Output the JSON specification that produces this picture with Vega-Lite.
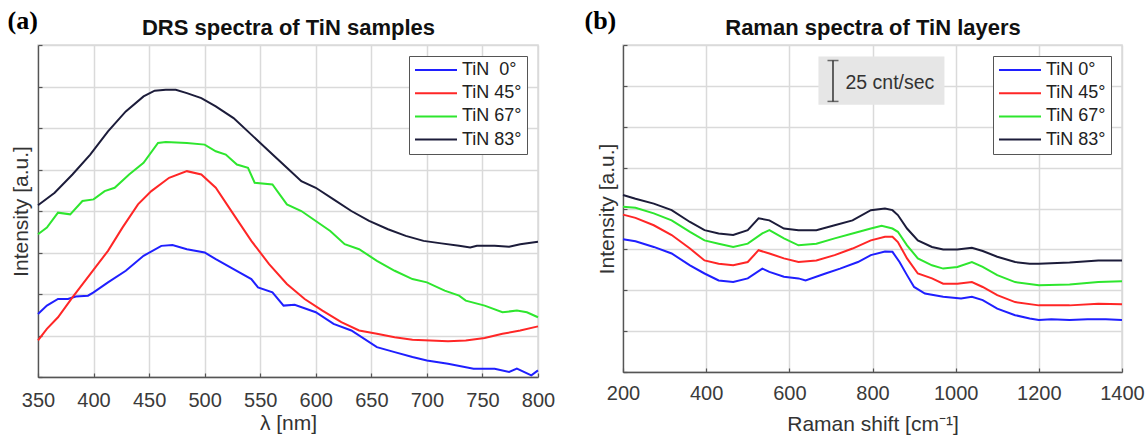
{
  "$schema": "https://vega.github.io/schema/vega-lite/v6.json",
  "padding": {"left": 6, "top": 6, "right": 5, "bottom": 0},
  "spacing": 85,
  "bounds": "flush",
  "datasets": {
    "drs": [
      {"lam":350,"I":1.52,"s":"0"},{"lam":358,"I":1.72,"s":"0"},{"lam":368,"I":1.88,"s":"0"},{"lam":377,"I":1.88,"s":"0"},{"lam":384,"I":1.94,"s":"0"},{"lam":395,"I":1.96,"s":"0"},{"lam":400,"I":2.04,"s":"0"},{"lam":413,"I":2.28,"s":"0"},{"lam":429,"I":2.56,"s":"0"},{"lam":445,"I":2.92,"s":"0"},{"lam":461,"I":3.16,"s":"0"},{"lam":471,"I":3.18,"s":"0"},{"lam":484,"I":3.08,"s":"0"},{"lam":500,"I":3.0,"s":"0"},{"lam":510,"I":2.84,"s":"0"},{"lam":526,"I":2.6,"s":"0"},{"lam":542,"I":2.36,"s":"0"},{"lam":548,"I":2.16,"s":"0"},{"lam":561,"I":2.04,"s":"0"},{"lam":571,"I":1.72,"s":"0"},{"lam":581,"I":1.74,"s":"0"},{"lam":600,"I":1.56,"s":"0"},{"lam":616,"I":1.28,"s":"0"},{"lam":632,"I":1.12,"s":"0"},{"lam":655,"I":0.72,"s":"0"},{"lam":671,"I":0.6,"s":"0"},{"lam":687,"I":0.48,"s":"0"},{"lam":700,"I":0.4,"s":"0"},{"lam":719,"I":0.32,"s":"0"},{"lam":742,"I":0.2,"s":"0"},{"lam":761,"I":0.2,"s":"0"},{"lam":774,"I":0.12,"s":"0"},{"lam":781,"I":0.2,"s":"0"},{"lam":794,"I":0.04,"s":"0"},{"lam":800,"I":0.16,"s":"0"},
      {"lam":350,"I":0.88,"s":"45"},{"lam":358,"I":1.16,"s":"45"},{"lam":368,"I":1.44,"s":"45"},{"lam":381,"I":1.92,"s":"45"},{"lam":397,"I":2.48,"s":"45"},{"lam":413,"I":3.04,"s":"45"},{"lam":426,"I":3.6,"s":"45"},{"lam":440,"I":4.16,"s":"45"},{"lam":452,"I":4.48,"s":"45"},{"lam":468,"I":4.8,"s":"45"},{"lam":484,"I":4.96,"s":"45"},{"lam":497,"I":4.88,"s":"45"},{"lam":510,"I":4.56,"s":"45"},{"lam":526,"I":3.92,"s":"45"},{"lam":542,"I":3.28,"s":"45"},{"lam":558,"I":2.72,"s":"45"},{"lam":574,"I":2.24,"s":"45"},{"lam":590,"I":1.88,"s":"45"},{"lam":606,"I":1.6,"s":"45"},{"lam":623,"I":1.32,"s":"45"},{"lam":639,"I":1.12,"s":"45"},{"lam":655,"I":1.04,"s":"45"},{"lam":671,"I":0.96,"s":"45"},{"lam":687,"I":0.9,"s":"45"},{"lam":703,"I":0.88,"s":"45"},{"lam":719,"I":0.86,"s":"45"},{"lam":735,"I":0.88,"s":"45"},{"lam":752,"I":0.94,"s":"45"},{"lam":768,"I":1.04,"s":"45"},{"lam":784,"I":1.12,"s":"45"},{"lam":800,"I":1.22,"s":"45"},
      {"lam":350,"I":3.44,"s":"67"},{"lam":358,"I":3.6,"s":"67"},{"lam":368,"I":3.96,"s":"67"},{"lam":379,"I":3.92,"s":"67"},{"lam":390,"I":4.24,"s":"67"},{"lam":400,"I":4.28,"s":"67"},{"lam":410,"I":4.48,"s":"67"},{"lam":419,"I":4.56,"s":"67"},{"lam":432,"I":4.88,"s":"67"},{"lam":445,"I":5.16,"s":"67"},{"lam":458,"I":5.64,"s":"67"},{"lam":465,"I":5.66,"s":"67"},{"lam":484,"I":5.64,"s":"67"},{"lam":500,"I":5.6,"s":"67"},{"lam":510,"I":5.44,"s":"67"},{"lam":519,"I":5.36,"s":"67"},{"lam":529,"I":5.12,"s":"67"},{"lam":539,"I":5.04,"s":"67"},{"lam":545,"I":4.68,"s":"67"},{"lam":561,"I":4.64,"s":"67"},{"lam":574,"I":4.16,"s":"67"},{"lam":587,"I":4.0,"s":"67"},{"lam":600,"I":3.76,"s":"67"},{"lam":613,"I":3.52,"s":"67"},{"lam":626,"I":3.2,"s":"67"},{"lam":639,"I":3.08,"s":"67"},{"lam":655,"I":2.8,"s":"67"},{"lam":671,"I":2.56,"s":"67"},{"lam":687,"I":2.36,"s":"67"},{"lam":700,"I":2.28,"s":"67"},{"lam":716,"I":2.08,"s":"67"},{"lam":729,"I":1.96,"s":"67"},{"lam":735,"I":1.84,"s":"67"},{"lam":752,"I":1.72,"s":"67"},{"lam":768,"I":1.56,"s":"67"},{"lam":781,"I":1.6,"s":"67"},{"lam":790,"I":1.56,"s":"67"},{"lam":800,"I":1.44,"s":"67"},
      {"lam":350,"I":4.14,"s":"83"},{"lam":365,"I":4.44,"s":"83"},{"lam":381,"I":4.88,"s":"83"},{"lam":397,"I":5.36,"s":"83"},{"lam":413,"I":5.92,"s":"83"},{"lam":429,"I":6.4,"s":"83"},{"lam":445,"I":6.76,"s":"83"},{"lam":455,"I":6.9,"s":"83"},{"lam":465,"I":6.92,"s":"83"},{"lam":474,"I":6.92,"s":"83"},{"lam":484,"I":6.84,"s":"83"},{"lam":497,"I":6.72,"s":"83"},{"lam":510,"I":6.52,"s":"83"},{"lam":526,"I":6.24,"s":"83"},{"lam":542,"I":5.84,"s":"83"},{"lam":558,"I":5.44,"s":"83"},{"lam":574,"I":5.04,"s":"83"},{"lam":587,"I":4.72,"s":"83"},{"lam":600,"I":4.56,"s":"83"},{"lam":616,"I":4.28,"s":"83"},{"lam":632,"I":4.0,"s":"83"},{"lam":648,"I":3.76,"s":"83"},{"lam":665,"I":3.56,"s":"83"},{"lam":681,"I":3.4,"s":"83"},{"lam":697,"I":3.28,"s":"83"},{"lam":713,"I":3.22,"s":"83"},{"lam":729,"I":3.16,"s":"83"},{"lam":739,"I":3.12,"s":"83"},{"lam":745,"I":3.16,"s":"83"},{"lam":761,"I":3.16,"s":"83"},{"lam":774,"I":3.14,"s":"83"},{"lam":784,"I":3.2,"s":"83"},{"lam":800,"I":3.26,"s":"83"}
    ],
    "raman": [
      {"shift":200,"I":3.25,"s":"0"},{"shift":230,"I":3.2,"s":"0"},{"shift":274,"I":3.06,"s":"0"},{"shift":317,"I":2.9,"s":"0"},{"shift":361,"I":2.61,"s":"0"},{"shift":396,"I":2.41,"s":"0"},{"shift":430,"I":2.24,"s":"0"},{"shift":465,"I":2.2,"s":"0"},{"shift":500,"I":2.29,"s":"0"},{"shift":535,"I":2.53,"s":"0"},{"shift":552,"I":2.45,"s":"0"},{"shift":587,"I":2.33,"s":"0"},{"shift":622,"I":2.29,"s":"0"},{"shift":639,"I":2.24,"s":"0"},{"shift":687,"I":2.41,"s":"0"},{"shift":722,"I":2.53,"s":"0"},{"shift":765,"I":2.69,"s":"0"},{"shift":796,"I":2.86,"s":"0"},{"shift":830,"I":2.95,"s":"0"},{"shift":848,"I":2.94,"s":"0"},{"shift":865,"I":2.69,"s":"0"},{"shift":883,"I":2.37,"s":"0"},{"shift":900,"I":2.08,"s":"0"},{"shift":926,"I":1.92,"s":"0"},{"shift":970,"I":1.84,"s":"0"},{"shift":1013,"I":1.8,"s":"0"},{"shift":1039,"I":1.84,"s":"0"},{"shift":1065,"I":1.76,"s":"0"},{"shift":1100,"I":1.55,"s":"0"},{"shift":1143,"I":1.39,"s":"0"},{"shift":1178,"I":1.31,"s":"0"},{"shift":1200,"I":1.27,"s":"0"},{"shift":1230,"I":1.29,"s":"0"},{"shift":1274,"I":1.27,"s":"0"},{"shift":1317,"I":1.29,"s":"0"},{"shift":1361,"I":1.29,"s":"0"},{"shift":1400,"I":1.27,"s":"0"},
      {"shift":200,"I":3.85,"s":"45"},{"shift":230,"I":3.77,"s":"45"},{"shift":274,"I":3.59,"s":"45"},{"shift":317,"I":3.35,"s":"45"},{"shift":361,"I":3.02,"s":"45"},{"shift":396,"I":2.73,"s":"45"},{"shift":430,"I":2.65,"s":"45"},{"shift":465,"I":2.61,"s":"45"},{"shift":500,"I":2.69,"s":"45"},{"shift":526,"I":2.98,"s":"45"},{"shift":552,"I":2.9,"s":"45"},{"shift":587,"I":2.78,"s":"45"},{"shift":622,"I":2.69,"s":"45"},{"shift":665,"I":2.73,"s":"45"},{"shift":709,"I":2.86,"s":"45"},{"shift":752,"I":3.02,"s":"45"},{"shift":796,"I":3.22,"s":"45"},{"shift":830,"I":3.31,"s":"45"},{"shift":848,"I":3.31,"s":"45"},{"shift":861,"I":3.18,"s":"45"},{"shift":883,"I":2.78,"s":"45"},{"shift":909,"I":2.41,"s":"45"},{"shift":943,"I":2.29,"s":"45"},{"shift":970,"I":2.16,"s":"45"},{"shift":1004,"I":2.16,"s":"45"},{"shift":1039,"I":2.2,"s":"45"},{"shift":1065,"I":2.08,"s":"45"},{"shift":1100,"I":1.88,"s":"45"},{"shift":1143,"I":1.71,"s":"45"},{"shift":1200,"I":1.63,"s":"45"},{"shift":1274,"I":1.63,"s":"45"},{"shift":1343,"I":1.67,"s":"45"},{"shift":1400,"I":1.66,"s":"45"},
      {"shift":200,"I":4.04,"s":"67"},{"shift":230,"I":4.02,"s":"67"},{"shift":274,"I":3.88,"s":"67"},{"shift":317,"I":3.71,"s":"67"},{"shift":361,"I":3.43,"s":"67"},{"shift":396,"I":3.22,"s":"67"},{"shift":430,"I":3.14,"s":"67"},{"shift":465,"I":3.06,"s":"67"},{"shift":500,"I":3.14,"s":"67"},{"shift":535,"I":3.39,"s":"67"},{"shift":552,"I":3.47,"s":"67"},{"shift":587,"I":3.27,"s":"67"},{"shift":622,"I":3.1,"s":"67"},{"shift":665,"I":3.14,"s":"67"},{"shift":709,"I":3.27,"s":"67"},{"shift":752,"I":3.39,"s":"67"},{"shift":796,"I":3.51,"s":"67"},{"shift":822,"I":3.58,"s":"67"},{"shift":848,"I":3.51,"s":"67"},{"shift":861,"I":3.43,"s":"67"},{"shift":883,"I":3.1,"s":"67"},{"shift":909,"I":2.78,"s":"67"},{"shift":943,"I":2.61,"s":"67"},{"shift":970,"I":2.53,"s":"67"},{"shift":1004,"I":2.57,"s":"67"},{"shift":1039,"I":2.69,"s":"67"},{"shift":1065,"I":2.57,"s":"67"},{"shift":1100,"I":2.37,"s":"67"},{"shift":1143,"I":2.2,"s":"67"},{"shift":1200,"I":2.12,"s":"67"},{"shift":1274,"I":2.14,"s":"67"},{"shift":1343,"I":2.2,"s":"67"},{"shift":1400,"I":2.22,"s":"67"},
      {"shift":200,"I":4.33,"s":"83"},{"shift":230,"I":4.24,"s":"83"},{"shift":274,"I":4.12,"s":"83"},{"shift":317,"I":3.96,"s":"83"},{"shift":361,"I":3.67,"s":"83"},{"shift":396,"I":3.47,"s":"83"},{"shift":430,"I":3.39,"s":"83"},{"shift":465,"I":3.35,"s":"83"},{"shift":500,"I":3.47,"s":"83"},{"shift":526,"I":3.76,"s":"83"},{"shift":552,"I":3.71,"s":"83"},{"shift":587,"I":3.51,"s":"83"},{"shift":622,"I":3.47,"s":"83"},{"shift":665,"I":3.47,"s":"83"},{"shift":709,"I":3.59,"s":"83"},{"shift":752,"I":3.71,"s":"83"},{"shift":796,"I":3.96,"s":"83"},{"shift":830,"I":4.0,"s":"83"},{"shift":848,"I":3.96,"s":"83"},{"shift":861,"I":3.84,"s":"83"},{"shift":883,"I":3.51,"s":"83"},{"shift":909,"I":3.22,"s":"83"},{"shift":943,"I":3.06,"s":"83"},{"shift":970,"I":3.0,"s":"83"},{"shift":1004,"I":3.0,"s":"83"},{"shift":1039,"I":3.04,"s":"83"},{"shift":1065,"I":2.96,"s":"83"},{"shift":1100,"I":2.82,"s":"83"},{"shift":1143,"I":2.69,"s":"83"},{"shift":1178,"I":2.65,"s":"83"},{"shift":1200,"I":2.65,"s":"83"},{"shift":1274,"I":2.68,"s":"83"},{"shift":1343,"I":2.73,"s":"83"},{"shift":1400,"I":2.73,"s":"83"}
    ]
  },
  "hconcat": [
    {
      "width": 500,
      "height": 332,
      "layer": [
        {
          "data": {"name": "drs"},
          "mark": {"type": "line", "strokeWidth": 2},
          "encoding": {
            "x": {"field": "lam", "type": "quantitative",
              "scale": {"domain": [350, 800], "nice": false, "zero": false},
              "axis": {"orient": "bottom", "grid": true, "values": [350,400,450,500,550,600,650,700,750,800], "title": "λ [nm]",
                "labelBaseline": "alphabetic", "labelPadding": 33, "labelFlush": false, "labelOverlap": false, "format": "d",
                "titleX": 250, "titleY": 52, "titleBaseline": "alphabetic", "titleAlign": "center"}},
            "y": {"field": "I", "type": "quantitative",
              "scale": {"domain": [0, 8], "nice": false, "zero": false},
              "axis": {"grid": true, "values": [0,1,2,3,4,5,6,7,8], "labels": false, "title": "Intensity [a.u.]",
                "titleX": -11, "titleY": 166, "titleBaseline": "alphabetic", "titleAlign": "center", "titleAngle": -90}},
            "color": {"field": "s", "type": "nominal",
              "scale": {"domain": ["0","45","67","83"], "range": ["#1f1fff","#ff2626","#2ee62e","#1c1c3a"]},
              "legend": {"title": null, "labelExpr": "datum.label == '0' ? 'TiN\u00a0\u00a00°' : 'TiN ' + datum.label + '°'"}}
          }
        },
        {
          "data": {"values": [{}]},
          "mark": {"type": "point", "opacity": 0},
          "encoding": {
            "y": {"datum": 0, "type": "quantitative"},
            "x": {"datum": 350, "type": "quantitative",
              "axis": {"orient": "top", "domain": false, "ticks": false, "labels": false, "grid": false,
                "title": "DRS spectra of TiN samples", "titleX": 250, "titleY": -11, "titleAlign": "center",
                "titleBaseline": "alphabetic", "titleFontWeight": "bold", "titleColor": "#111", "titleFontSize": 22}}
          }
        },
        {
          "data": {"values": [{}]},
          "mark": {"type": "point", "opacity": 0},
          "encoding": {
            "y": {"datum": 0, "type": "quantitative"},
            "x": {"datum": 350, "type": "quantitative",
              "axis": {"orient": "top", "domain": false, "ticks": false, "labels": false, "grid": false,
                "title": "(a)", "titleX": -31, "titleY": -17, "titleAlign": "left",
                "titleBaseline": "alphabetic", "titleFont": "Liberation Serif", "titleFontWeight": "bold", "titleColor": "#000", "titleFontSize": 26}}
          }
        }
      ],
      "resolve": {"axis": {"x": "independent"}}
    },
    {
      "width": 499,
      "height": 327,
      "layer": [
        {
          "data": {"name": "raman"},
          "mark": {"type": "line", "strokeWidth": 2},
          "encoding": {
            "x": {"field": "shift", "type": "quantitative",
              "scale": {"domain": [200, 1400], "nice": false, "zero": false},
              "axis": {"orient": "bottom", "grid": true, "values": [200,400,600,800,1000,1200,1400], "title": "Raman shift [cm⁻¹]",
                "labelBaseline": "alphabetic", "labelPadding": 31.5, "labelFlush": false, "labelOverlap": false, "format": "d",
                "titleX": 249.5, "titleY": 58, "titleBaseline": "alphabetic", "titleAlign": "center"}},
            "y": {"field": "I", "type": "quantitative",
              "scale": {"domain": [0, 8], "nice": false, "zero": false},
              "axis": {"grid": true, "values": [0,1,2,3,4,5,6,7,8], "labels": false, "title": "Intensity [a.u.]",
                "titleX": -10, "titleY": 163.5, "titleBaseline": "alphabetic", "titleAlign": "center", "titleAngle": -90}},
            "color": {"field": "s", "type": "nominal",
              "scale": {"domain": ["0","45","67","83"], "range": ["#1f1fff","#ff2626","#2ee62e","#1c1c3a"]},
              "legend": {"title": null, "labelExpr": "'TiN ' + datum.label + '°'"}}
          }
        },
        {
          "data": {"values": [{"x1": 670, "x2": 973, "y1": 6.54, "y2": 7.72}]},
          "mark": {"type": "rect", "color": "#e6e6e6"},
          "encoding": {
            "x": {"field": "x1", "type": "quantitative", "axis": null},
            "x2": {"field": "x2"},
            "y": {"field": "y1", "type": "quantitative"},
            "y2": {"field": "y2"}
          }
        },
        {
          "data": {"values": [{"x": 705, "y1": 6.62, "y2": 7.62}]},
          "mark": {"type": "rule", "color": "#333", "strokeWidth": 1.5},
          "encoding": {
            "x": {"field": "x", "type": "quantitative", "axis": null},
            "y": {"field": "y1", "type": "quantitative"},
            "y2": {"field": "y2"}
          }
        },
        {
          "data": {"values": [{"x": 705, "y": 6.62}, {"x": 705, "y": 7.62}]},
          "mark": {"type": "tick", "orient": "horizontal", "color": "#333", "size": 11, "thickness": 1.5},
          "encoding": {
            "x": {"field": "x", "type": "quantitative", "axis": null},
            "y": {"field": "y", "type": "quantitative"}
          }
        },
        {
          "data": {"values": [{"x": 735, "y": 7.07, "label": "25 cnt/sec"}]},
          "mark": {"type": "text", "align": "left", "baseline": "middle", "fontSize": 19.5, "color": "#333", "font": "Liberation Sans"},
          "encoding": {
            "x": {"field": "x", "type": "quantitative", "axis": null},
            "y": {"field": "y", "type": "quantitative"},
            "text": {"field": "label"}
          }
        },
        {
          "data": {"values": [{}]},
          "mark": {"type": "point", "opacity": 0},
          "encoding": {
            "y": {"datum": 0, "type": "quantitative"},
            "x": {"datum": 200, "type": "quantitative",
              "axis": {"orient": "top", "domain": false, "ticks": false, "labels": false, "grid": false,
                "title": "Raman spectra of TiN layers", "titleX": 249.5, "titleY": -11, "titleAlign": "center",
                "titleBaseline": "alphabetic", "titleFontWeight": "bold", "titleColor": "#111", "titleFontSize": 22}}
          }
        },
        {
          "data": {"values": [{}]},
          "mark": {"type": "point", "opacity": 0},
          "encoding": {
            "y": {"datum": 0, "type": "quantitative"},
            "x": {"datum": 200, "type": "quantitative",
              "axis": {"orient": "top", "domain": false, "ticks": false, "labels": false, "grid": false,
                "title": "(b)", "titleX": -39, "titleY": -17, "titleAlign": "left",
                "titleBaseline": "alphabetic", "titleFont": "Liberation Serif", "titleFontWeight": "bold", "titleColor": "#000", "titleFontSize": 26}}
          }
        }
      ],
      "resolve": {"axis": {"x": "independent"}}
    }
  ],
  "resolve": {"scale": {"color": "independent"}, "legend": {"color": "independent"}},
  "config": {
    "font": "Liberation Sans",
    "view": {"stroke": "#dadada", "strokeWidth": 1.5},
    "axis": {
      "labelFont": "Liberation Sans", "labelFontSize": 20, "labelColor": "#3a3a3a",
      "titleFont": "Liberation Sans", "titleFontSize": 21, "titleFontWeight": "normal", "titleColor": "#333",
      "domainColor": "#555", "domainWidth": 1.3, "tickColor": "#555", "tickSize": -4, "tickWidth": 1.2,
      "gridColor": "#dadada", "gridWidth": 1.5, "gridOpacity": 1
    },
    "legend": {
      "orient": "top-right", "offset": 11, "padding": 5,
      "strokeColor": "#555", "strokeWidth": 1, "fillColor": "#ffffff",
      "labelFont": "Liberation Sans", "labelFontSize": 18, "labelColor": "#222",
      "symbolType": "stroke", "symbolSize": 1764, "symbolStrokeWidth": 2,
      "labelOffset": 4, "rowPadding": 5.2, "clipHeight": 18
    }
  }
}
